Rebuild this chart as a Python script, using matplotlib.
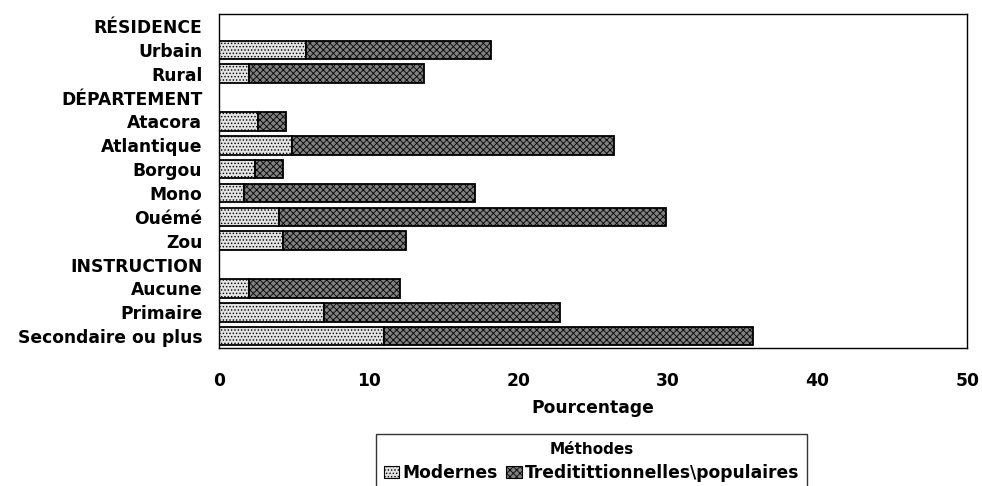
import matplotlib
matplotlib.use("Agg")
import matplotlib.pyplot as plt
from matplotlib.patches import Patch

plt.rcParams['font.family'] = ['DejaVu Sans']
plt.rcParams['hatch.linewidth'] = 0.6

categories = ["RÉSIDENCE", "Urbain", "Rural", "DÉPARTEMENT", "Atacora", "Atlantique",
              "Borgou", "Mono", "Ouémé", "Zou", "INSTRUCTION", "Aucune", "Primaire",
              "Secondaire ou plus"]
modernes = [None, 5.8, 2.0, None, 2.6, 4.9, 2.4, 1.7, 4.0, 4.3, None, 2.0, 7.0, 11.0]
totals = [None, 18.2, 13.7, None, 4.5, 26.4, 4.3, 17.1, 29.9, 12.5, None, 12.1, 22.8, 35.7]
x_ticks = [0, 10, 20, 30, 40, 50]
legend_labels = ["Modernes", "Treditittionnelles\\populaires"]

FS = 12.3

fig = plt.figure(figsize=(9.82, 4.86), dpi=100)
ax = fig.add_axes([0.223, 0.284, 0.762, 0.687])

n = len(categories)
ys = list(range(n))
for y, m, t in zip(ys, modernes, totals):
    if m is None:
        continue
    ax.barh(y, m, height=0.78, left=0, color='#e2e2e2', edgecolor='black',
            hatch='.....', linewidth=1.3)
    ax.barh(y, t - m, height=0.78, left=m, color='#808080', edgecolor='black',
            hatch='xxxxx', linewidth=1.3)

ax.set_ylim(n - 0.5, -0.5)
ax.set_xlim(0, 50)
ax.set_yticks(ys)
ax.set_yticklabels(categories, fontsize=FS, fontweight='bold')
ax.set_xticks(x_ticks)
ax.set_xticklabels([str(v) for v in x_ticks], fontsize=FS, fontweight='bold')
ax.tick_params(axis='y', length=0, pad=12)
ax.tick_params(axis='x', length=0, pad=17)
for s in ax.spines.values():
    s.set_linewidth(1.0)
    s.set_color('black')
ax.set_xlabel("Pourcentage", fontsize=FS, fontweight='bold', labelpad=7)

handles = [Patch(facecolor='#e2e2e2', edgecolor='black', hatch='.....', linewidth=0.8),
           Patch(facecolor='#808080', edgecolor='black', hatch='xxxxx', linewidth=0.8)]
leg = fig.legend(handles, legend_labels, title="Méthodes", ncol=2,
                 loc='upper left', bbox_to_anchor=(376 / 982, 1 - 434 / 486),
                 fontsize=FS, title_fontproperties={'weight': 'bold', 'size': 11},
                 frameon=True, fancybox=False, edgecolor='black',
                 handlelength=0.9, handleheight=0.7, handletextpad=0.2,
                 columnspacing=0.5, borderpad=0.45, borderaxespad=0,
                 labelspacing=0.45)
for t in leg.get_texts():
    t.set_fontweight('bold')
leg.get_frame().set_linewidth(1.0)

fig.savefig("out.png", dpi=100)
